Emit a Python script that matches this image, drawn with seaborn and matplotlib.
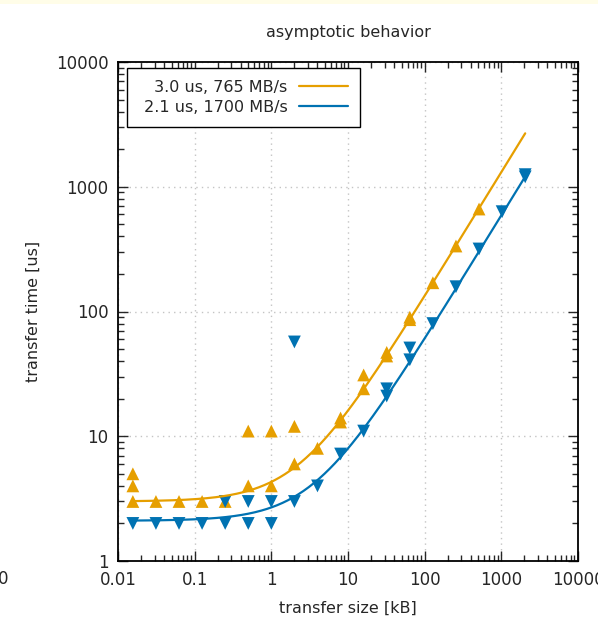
import numpy as np
import pandas as pd
import seaborn as sns
import matplotlib.pyplot as plt
from matplotlib.ticker import FuncFormatter, LogLocator, NullFormatter
from matplotlib.patches import Rectangle

size_a = [0.015625, 0.015625, 0.015625, 0.03125, 0.0625, 0.125, 0.25,
          0.5, 0.5, 1, 1, 2, 2, 4, 8, 8, 16, 16, 32, 32, 64, 64, 128, 256, 512]
time_a = [3, 4, 5, 3, 3, 3, 3,
          4, 11, 4, 11, 6, 12, 8, 13, 14, 24, 31, 44, 47, 86, 90, 170, 335, 663]

size_b = [0.015625, 0.03125, 0.0625, 0.125, 0.25, 0.25, 0.5, 0.5, 1, 1,
          2, 2, 4, 8, 16, 32, 32, 64, 64, 128, 256, 512, 1024, 2048, 2048]
time_b = [2, 2, 2, 2, 2, 3, 2, 3, 2, 3,
          3, 57, 4, 7.2, 11, 21, 24, 41, 51, 80, 158, 317, 631, 1200, 1250]

# fit parameters: latency [us], bandwidth [MB/s]
lat_a, bw_a = 3.0, 765
lat_b, bw_b = 2.1, 1700
label_a = '3.0 us, 765 MB/s'
label_b = '2.1 us, 1700 MB/s'

col_a = '#E69F00'
col_b = '#0072B2'

sns.set_style('ticks')
plt.rcParams['font.family'] = ['DejaVu Sans']
plt.rcParams['font.size'] = 11.5

xs = np.geomspace(0.015625, 2048, 300)
fit = pd.DataFrame({'x': np.concatenate([xs, xs]),
                    'y': np.concatenate([lat_a + xs / (bw_a / 1000.0),
                                         lat_b + xs / (bw_b / 1000.0)]),
                    'fit': [label_a] * len(xs) + [label_b] * len(xs)})

fig = plt.figure(figsize=(5.98, 6.2), dpi=100)
fig.patches.append(Rectangle((0, 1 - 4 / 620), 1, 4 / 620, transform=fig.transFigure,
                             facecolor='#fffde8', edgecolor='none'))
ax = fig.add_axes([118 / 598, 59 / 620, 460 / 598, 499 / 620])
ax.set_xscale('log')
ax.set_yscale('log')

sns.lineplot(data=fit, x='x', y='y', hue='fit', palette=[col_a, col_b],
             linewidth=1.6, ax=ax)
sns.scatterplot(x=size_a, y=time_a, marker='^', color=col_a, s=85,
                edgecolor='none', ax=ax, legend=False)
sns.scatterplot(x=size_b, y=time_b, marker='v', color=col_b, s=85,
                edgecolor='none', ax=ax, legend=False)

ax.set_xlim(0.01, 10000)
ax.set_ylim(1, 10000)

fmt = FuncFormatter(lambda v, p: '%g' % v)
ax.xaxis.set_major_formatter(fmt)
ax.yaxis.set_major_formatter(fmt)
ax.xaxis.set_minor_locator(LogLocator(subs=np.arange(2, 10)))
ax.yaxis.set_minor_locator(LogLocator(subs=np.arange(2, 10)))
ax.xaxis.set_minor_formatter(NullFormatter())
ax.yaxis.set_minor_formatter(NullFormatter())
ax.tick_params(which='both', direction='in', top=True, right=True, width=1,
               labelsize=12)
ax.tick_params(which='major', length=7)
ax.tick_params(which='minor', length=4)
ax.tick_params(axis='x', pad=7)
ax.tick_params(axis='y', pad=7)
for sp in ax.spines.values():
    sp.set_visible(True)
    sp.set_linewidth(1.3)
    sp.set_color('black')

ax.grid(True, which='major', linestyle=(0, (1, 3)), color='#c4c4c4', linewidth=1)

ax.set_xlabel('')
ax.set_ylabel('')
fig.text(348 / 598, 1 - 608 / 620, 'transfer size [kB]', ha='center', va='center')
fig.text(33 / 598, 1 - 311 / 620, 'transfer time [us]', ha='center', va='center',
         rotation='vertical')
fig.text(348 / 598, 1 - 33 / 620, 'asymptotic behavior', ha='center', va='center')
fig.text(3 / 598, 1 - 579 / 620, '0', ha='center', va='center', fontsize=12)

handles, labels = ax.get_legend_handles_labels()
leg = ax.legend(handles, [' ' + l for l in labels], loc='upper left',
                bbox_to_anchor=(9 / 460, 1 - 6 / 499), borderaxespad=0,
                markerfirst=False, fancybox=False, edgecolor='black',
                framealpha=1, handlelength=3.1, handletextpad=0.7,
                borderpad=0.75, labelspacing=0.3)
leg.get_frame().set_linewidth(1)
for t in leg.get_texts():
    t.set_ha('right')

fig.savefig('out.png', dpi=100)
